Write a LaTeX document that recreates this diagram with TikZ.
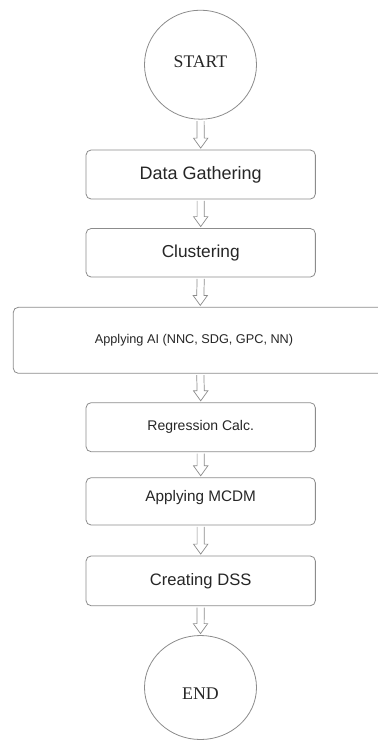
\documentclass[tikz,border=0pt]{standalone}
\usepackage{fontspec}
\newfontfamily\boxfont{Liberation Sans}
\newfontfamily\termfont{Liberation Serif}
\usetikzlibrary{shapes.geometric,calc}
\definecolor{edge}{HTML}{8C8C8C}
\definecolor{ink}{HTML}{262626}
\tikzset{
  stepbox/.style={draw=edge, line width=0.8pt, rounded corners=5pt, rectangle,
    inner sep=0pt, text=ink, font=\boxfont},
  terminal/.style={draw=edge, line width=0.8pt, ellipse, inner sep=0pt,
    minimum width=112pt, text=ink, font=\termfont\fontsize{17.7}{20}\selectfont},
  arrowline/.style={draw=edge, line width=0.7pt, fill=white, line join=miter},
}
% hollow block arrow from the bottom of #1 to the top of #2
\newcommand\flowarrow[2]{%
  \draw[arrowline] ($(#1.south)+(-3.6,1.5)$) -- ($(#2.north)+(-3.6,-11.5)$)
    -- ($(#2.north)+(-7.2,-11.5)$) -- ($(#2.north)+(0,-1.5)$)
    -- ($(#2.north)+(7.2,-11.5)$) -- ($(#2.north)+(3.6,-11.5)$)
    -- ($(#1.south)+(3.6,1.5)$);}
\begin{document}
\begin{tikzpicture}[x=1pt,y=-1pt]
  \useasboundingbox (0,0) rectangle (378,740);
  \clip (0,0) rectangle (378,740);
  \fill[white] (0,0) rectangle (378,740);

  \node[terminal, minimum height=109pt] (start) at (200.5,64.7) {};
  \node[text=ink, font=\termfont\fontsize{17.7}{20}\selectfont] (startlabel) at (200.5,62) {START};

  \node[stepbox, minimum width=229.3pt, minimum height=49pt,
        font=\boxfont\fontsize{18}{20}\selectfont] (dg) at (200.7,174.5) {Data Gathering};
  \node[stepbox, minimum width=229.3pt, minimum height=48.5pt,
        font=\boxfont\fontsize{17.3}{20}\selectfont] (cl) at (200.7,252.75) {Clustering};
  \node[stepbox, minimum width=374pt, minimum height=66pt] (ai) at (200.3,340.3) {};
  \node[text=ink, font=\boxfont\fontsize{12.7}{15}\selectfont] (ailabel) at (194,340.7)
        {Applying AI (NNC, SDG, GPC, NN)};
  \node[stepbox, minimum width=229.3pt, minimum height=49pt,
        font=\boxfont\fontsize{14}{16}\selectfont] (rc) at (200.7,427.2) {Regression Calc.};
  \node[stepbox, minimum width=229.3pt, minimum height=47.3pt] (mc) at (200.7,501.35) {};
  \node[text=ink, font=\boxfont\fontsize{15.3}{18}\selectfont] (mclabel) at (200.7,497.8)
        {Applying MCDM};
  \node[stepbox, minimum width=229.3pt, minimum height=49.7pt,
        font=\boxfont\fontsize{16.6}{19}\selectfont] (ds) at (200.7,580.85) {Creating DSS};

  \node[terminal, minimum height=104pt] (stop) at (200.5,687.5) {};
  \node[text=ink, font=\termfont\fontsize{17.8}{20}\selectfont] (stoplabel) at (200.5,694) {END};

  \flowarrow{start}{dg}
  \flowarrow{dg}{cl}
  \flowarrow{cl}{ai}
  \flowarrow{ai}{rc}
  \flowarrow{rc}{mc}
  \flowarrow{mc}{ds}
  \flowarrow{ds}{stop}
\end{tikzpicture}
\end{document}
